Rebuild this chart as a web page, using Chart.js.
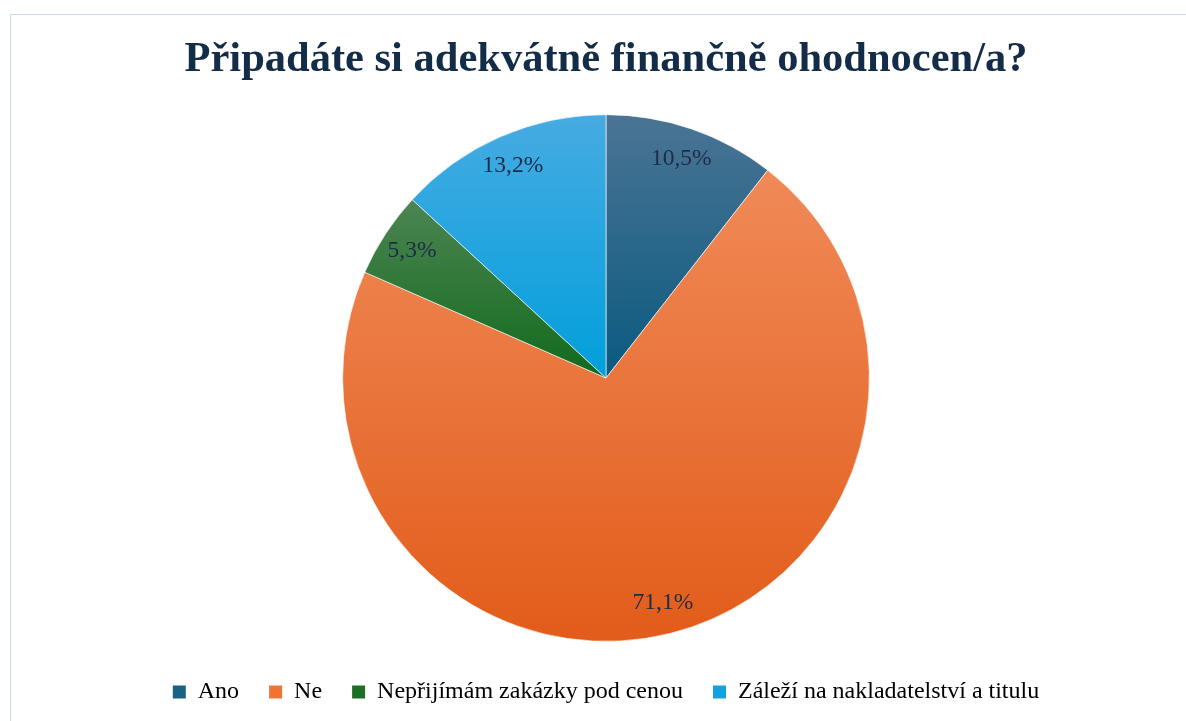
<!DOCTYPE html>
<html>
<head>
<meta charset="utf-8">
<script src="https://cdn.jsdelivr.net/npm/chart.js@4.4.1/dist/chart.umd.min.js"></script>
<style>
  html, body { margin: 0; padding: 0; background: #fff; overflow: hidden; }
  #box {
    position: absolute; left: 10px; top: 14px;
    width: 1190px; height: 720px;
    border: 1px solid #cadcf3;
    background: #fff;
  }
</style>
</head>
<body>
<div id="box"><canvas id="pieChart" width="1190" height="706"></canvas></div>
<script>
const title = "Připadáte si adekvátně finančně ohodnocen/a?";
const labels = ["Ano", "Ne", "Nepřijímám zakázky pod cenou", "Záleží na nakladatelství a titulu"];
const counts = [4, 27, 2, 5];
const percents = ["10,5%", "71,1%", "5,3%", "13,2%"];

// barvy: horní (světlá) a spodní (tmavá) část každé výseče
const topColors = ["#4b7494", "#f08a58", "#4d8553", "#47abe2"];
const bottomColors = ["#0a5a80", "#e25c1a", "#126a1c", "#019fdb"];
const solidColors = ["#1a6186", "#ee7434", "#1e6e26", "#12a2dd"];

const serif = "'Liberation Serif', 'Times New Roman', serif";

// přechod přes svislý rozsah konkrétní výseče
function sliceGradient(ctx) {
  const chart = ctx.chart;
  const area = chart.chartArea;
  const i = ctx.dataIndex;
  if (!area) return solidColors[i];
  const cx = (area.left + area.right) / 2;
  const cy = (area.top + area.bottom) / 2;
  const r = Math.min(area.right - area.left, area.bottom - area.top) / 2 * 0.97;
  const total = counts.reduce((a, b) => a + b, 0);
  let start = -Math.PI / 2;
  for (let k = 0; k < i; k++) start += counts[k] / total * Math.PI * 2;
  const end = start + counts[i] / total * Math.PI * 2;
  let ys = [cy, cy + r * Math.sin(start), cy + r * Math.sin(end)];
  [-Math.PI / 2, Math.PI / 2, Math.PI * 1.5, Math.PI * 2.5].forEach(a => {
    if (a >= start && a <= end) ys.push(cy + r * Math.sin(a));
  });
  const y0 = Math.min(...ys), y1 = Math.max(...ys);
  const g = chart.ctx.createLinearGradient(0, y0, 0, y1);
  g.addColorStop(0, topColors[i]);
  g.addColorStop(1, bottomColors[i]);
  return g;
}

const percentLabels = {
  id: "percentLabels",
  afterDatasetsDraw(chart) {
    const c = chart.ctx;
    const meta = chart.getDatasetMeta(0);
    c.save();
    c.font = "23.5px " + serif;
    c.fillStyle = "#1d2c47";
    c.textAlign = "center";
    c.textBaseline = "middle";
    meta.data.forEach((arc, i) => {
      const mid = (arc.startAngle + arc.endAngle) / 2;
      const rr = arc.outerRadius * 0.88;
      c.fillText(percents[i], arc.x + Math.cos(mid) * rr, arc.y + Math.sin(mid) * rr);
    });
    c.restore();
  }
};

new Chart(document.getElementById("pieChart"), {
  type: "pie",
  data: {
    labels: labels,
    datasets: [{
      data: counts,
      backgroundColor: sliceGradient,
      borderColor: "rgba(255,255,255,0.6)",
      borderWidth: 1
    }]
  },
  options: {
    responsive: false,
    animation: false,
    radius: "97%",
    layout: { padding: { bottom: 7 } },
    plugins: {
      title: {
        display: true,
        text: title,
        color: "#132c47",
        font: { family: serif, size: 42.5, weight: "bold" },
        padding: { top: 20, bottom: 20 }
      },
      legend: {
        position: "bottom",
        labels: {
          color: "#1d2c47",
          font: { family: serif, size: 24 },
          boxWidth: 13,
          boxHeight: 13,
          padding: 30,
          generateLabels(chart) {
            return labels.map((l, i) => ({
              text: l,
              fillStyle: solidColors[i],
              strokeStyle: solidColors[i],
              lineWidth: 0,
              index: i
            }));
          }
        }
      },
      tooltip: { enabled: false }
    }
  },
  plugins: [percentLabels]
});
</script>
</body>
</html>
